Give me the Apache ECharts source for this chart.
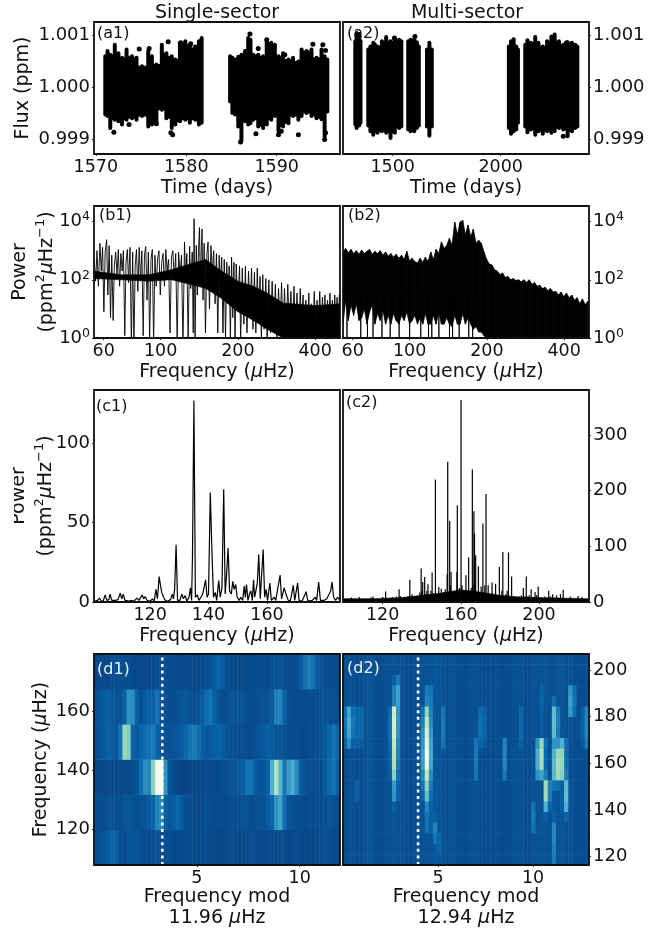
<!DOCTYPE html>
<html><head><meta charset="utf-8"><style>html,body{margin:0;background:#fff}#c{width:670px;height:931px}</style>
<script src="https://cdn.jsdelivr.net/npm/echarts@6/dist/echarts.min.js"></script></head><body><div id="c"></div>
<script>
// --- tick values
const a1XTicks=[1570,1580,1590], a2XTicks=[1500,2000], fluxTicks=[0.999,1,1.001];
const bXTicks=[60,100,200,400], bYTicks=[1,100,10000];
const bYLabels={1:'{n|10}{s|0}',100:'{n|10}{s|2}',10000:'{n|10}{s|4}'};
const c1XTicks=[120,140,160], c2XTicks=[120,160,200], c1YTicks=[0,50,100], c2YTicks=[0,100,200,300];
const dXTicks=[5,10], d1YTicks=[120,140,160], d2YTicks=[120,140,160,180,200];
// --- (a1) flux envelope per observing block
const a1T1=[1571.05,1571.3,1571.6,1572.1,1572.5,1572.9,1573.4,1574.0,1574.5,1575.1,1575.8,1576.2,1576.7,1577.3,1577.8,1578.4,1578.8,1579.3,1579.9,1580.4,1581.0,1581.4,1581.7];
const a1Hi1=[1.00059,1.00069,1.00062,1.00081,1.00065,1.00056,1.00072,1.00059,1.00056,1.0004,1.00069,1.00059,1.00043,1.00081,1.00065,1.00059,1.00053,1.00085,1.00088,1.00081,1.00075,1.00088,1.00094];
const a1Lo1=[.99947,.99944,.99921,.99937,.99934,.99928,.99937,.9994,.99937,.99944,.99924,.99928,.99934,.99956,.9994,.99921,.99928,.99934,.99937,.99931,.99937,.99928,.99931];
const a1T2=[1584.85,1585.1,1585.4,1585.75,1586.1,1586.5,1586.85,1587.1,1587.4,1587.96,1588.5,1588.9,1589.4,1589.8,1590.2,1590.7,1591.3,1591.8,1592.4,1592.75,1593.3,1593.85,1594.4,1594.96,1595.3,1595.6];
const a1Hi2=[1.00059,1.00056,1.00053,1.00058,1.00062,1.00069,1.00094,1.00091,1.00062,1.00062,1.00059,1.00091,1.00085,1.00081,1.00059,1.00065,1.00053,1.00056,1.00049,1.00072,1.00069,1.00072,1.00056,1.00072,1.00059,1.00053];
const a1Lo2=[.99972,.9995,.99947,.99924,.99896,.99934,.99928,.9993,.99937,.99924,.99921,.99928,.99937,.99944,.99915,.99924,.9993,.99944,.99937,.99944,.9995,.99944,.9994,.99938,.99905,.99953];
const a1Out=[[1572,.99913],[1573.67,.99928],[1574.8,1.00073],[1575.9,1.00074],[1578,1.00087],[1578.3,.99912],[1578.5,.99908],[1579.4,1.00085],[1580.5,1.00083],[1581,1.00077],[1576.7,.99929],[1576.2,.99931],[1587.04,1.00102],[1587.96,1.00074],[1588.9,1.00091],[1590.9,1.00062],[1592.4,.99908],[1590.5,.99915],[1590.2,.99908],[1587.7,.9991],[1594,1.00082],[1595.1,1.00081],[1595.4,1.0007],[1595.3,.99899],[1595.4,.99912],[1586,.99894]];
// --- (a2) flux envelope per sector block
const a2Blocks=[
 {t:[1327,1333,1345,1351],hi:[1.00088,1.00104,1.00101,1.00088],lo:[.99928,.99921,.99926,.99931]},
 {t:[1387,1397,1410,1430,1450,1470,1490,1510,1530,1540],hi:[1.00072,1.00078,1.00085,1.00078,1.00088,1.00096,1.00088,1.00094,1.00091,1.00088],lo:[.99926,.99915,.99908,.99912,.99915,.99912,.99902,.99912,.99921,.99924]},
 {t:[1572,1583,1600,1612,1621],hi:[1.00088,1.00091,1.00092,1.00086,1.00078],lo:[.99918,.99915,.99915,.99921,.99926]},
 {t:[1659,1670,1681],hi:[1.00072,1.00085,1.00072],lo:[.99924,.99906,.99924]},
 {t:[2038,2048,2060,2072,2080],hi:[1.00078,1.00088,1.00092,1.00078,1.00072],lo:[.99921,.9991,.99915,.99918,.99931]},
 {t:[2114,2124,2140,2160,2175,2195,2215,2235,2250,2270,2290,2310,2330,2345,2355],hi:[1.00081,1.0009,1.00085,1.00096,1.00085,1.00078,1.00088,1.00097,1.00101,1.00088,1.00081,1.00086,1.00085,1.00081,1.00078],lo:[.99924,.99913,.99918,.99908,.99915,.9991,.99915,.99912,.99915,.99921,.99918,.99905,.99915,.99921,.99924]}];
const a2Out=[[1603,1.00097],[1508,1.00094],[1415,1.00081],[2305,1.00085],[2290,.99905]];
// --- (b1) spectrum, plus the dense body of the trace
const b1Spectrum=[[55,600],[55.8,90],[56.5,1000],[57.2,60],[58,1800],[58.7,200],[59.4,1300],[60.1,8],[60.8,900],[61.6,2400],[62.3,30],[63,1500],[63.8,5],[64.5,700],[65.3,4],[66,300],[66.8,900],[67.6,150],[68.4,1100],[69.2,60],[70,800],[70.8,200],[71.6,1000],[72.5,1.2],[73.3,400],[74.2,1100],[75,80],[76,1300],[76.9,.5],[77.8,900],[78.7,.5],[79.6,300],[80.5,1100],[81.5,40],[82.5,1300],[83.5,100],[84.5,1000],[85.5,1.2],[86.5,700],[87.5,1400],[88.5,20],[89.6,900],[90.6,.7],[91.7,500],[92.8,1100],[93.9,.6],[95,700],[96.1,60],[97.3,500],[98.5,1000],[99.7,30],[101,400],[102.2,800],[103.5,60],[104.8,1100],[106,200],[107.4,500],[108.8,1.5],[110.2,600],[111.6,1000],[113,100],[114.5,800],[116,.6],[117.5,900],[119,150],[120.6,700],[122.2,.5],[123.9,2000],[125.2,100],[126.5,800],[128,.7],[129.7,1400],[131,50],[132.8,900],[134,1.5],[135,12500],[136.2,.7],[137.7,1500],[139,30],[140.5,1100],[141.7,6200],[142.8,60],[144,1000],[145,5600],[146.3,20],[147.8,1800],[149.5,1.5],[151.5,800],[153,2000],[155,10],[157,1500],[159,200],[161,1000],[163,15],[165,800],[167,1.5],[169,700],[171,60],[173,600],[175,1.5],[177,500],[179,1],[181,400],[183,20],[185,300],[187,.8],[189,600],[191,5],[193,400],[195,.7],[197,350],[200,10],[203,300],[205,.8],[208,250],[211,3],[214,300],[217,1.5],[220,200],[223,6],[226,250],[229,2],[232,180],[235,1.5],[238,250],[241,4],[244,130],[247,.8],[250,150],[253,2],[257,110],[260,.7],[264,100],[268,1.5],[272,90],[276,2],[280,70],[284,.7],[288,50],[292,2],[296,80],[300,1.2],[304,50],[308,.8],[313,70],[317,3],[322,40],[326,1],[331,60],[335,1.5],[340,35],[345,.8],[350,50],[354,2],[359,30],[363,1],[368,20],[373,2],[378,35],[382,1.1],[387,15],[392,2],[397,40],[402,1],[407,20],[412,2],[417,40],[422,1.2],[427,25],[432,2],[437,30],[442,1],[447,20],[452,3],[457,35],[462,1.5],[467,20],[472,1],[477,30],[482,2],[487,25],[492,1.2],[497,30],[500,4]];
const b1BodyFreq=[55,70,90,110,130,150,170,200,230,260,300,400,500];
const b1BodyHi=[200,150,150,220,350,500,220,90,60,35,16,13,15];
const b1BodyLo=[110,100,90,100,70,50,25,8,4,2,1,1,1];
// --- (b2) spectrum envelope and the deep narrow dips
const b2Freq=[55,56.3,57.7,59.1,60.5,62,63.5,65,66.6,68.2,69.8,71.5,73.2,75,76.8,78.7,80.6,82.5,84.5,86.5,88.6,90.8,93,95.2,97.5,99.9,102.3,104.8,107.3,109.9,112.5,115.2,118,120.9,123.8,126.8,129.9,133,136.2,139.5,142.9,146.3,149.9,153.5,157.2,161,164.9,168.9,173,177.1,181.4,185.8,190.3,194.9,199.6,204.4,209.4,214.4,219.6,224.9,230.3,235.9,241.6,247.4,253.4,259.5,265.8,272.2,278.8,285.5,292.4,299.5,306.7,314.1,321.7,329.5,337.4,345.6,353.9,362.5,371.2,380.2,389.4,398.8,408.4,418.3,428.4,438.7,449.3,460.2,471.3,482.7,494.3,500];
const b2Hi=[900,1200,850,1100,800,1000,750,1050,800,950,1100,750,950,800,1000,700,900,650,800,600,750,550,700,500,950,450,550,420,380,550,400,600,420,900,500,1100,800,2000,1200,1500,2700,1500,9500,3500,9500,11000,3500,7500,3000,5500,1800,2300,1800,900,500,350,320,220,200,150,170,120,130,100,110,95,100,85,100,80,100,70,80,60,65,50,55,42,50,38,40,30,38,26,35,24,30,20,24,15,22,14,18,14];
const b2Lo=[3,20,4,14,6,15,4,5,10,3,8,14,3,7,4,9,3,6,3,7,4,3,6,4,8,3,4,6,3,5,3,7,3,3,6,3,8,3,3,5,3,2.5,6,3,3,7,3,5,3,2,2.5,1.6,1.6,1.2,1,1,1,1,1,1,1,1,1,1,1,1,1,1,1,1,1,1,1,1,1,1,1,1,1,1,1,1,1,1,1,1,1,1,1,1,1,1,1,1];
const b2Dips=[57,64.5,68.5,72,78,84,91,100,110.5,118.5,122,130,143,147,156,170,176];
// --- (c1), (c2) spectra
const c1Spectrum=[[101,.5],[102,1],[102.7,2.5],[103.3,.5],[104,.8],[104.6,4.5],[105.2,1],[105.9,1.5],[106.3,5],[106.9,1],[107.5,.5],[108.2,1],[109,1.5],[109.8,5.5],[110.3,2],[110.8,5],[111.4,1],[112,2],[112.7,.5],[113.5,1],[114.5,.5],[115.5,2.5],[116.2,1],[116.8,1.5],[117.3,4.5],[117.8,2],[118.3,3.5],[119,1],[120,.5],[120.8,2],[121.4,.5],[122,8],[122.5,2],[123.1,16],[123.6,10],[124,6],[124.6,3],[125.2,1],[126,.5],[127,1.5],[127.6,5],[128,2],[128.4,8],[128.9,36],[129.4,1],[130.2,1],[130.8,5],[131.4,2],[132,4],[132.6,.5],[133.3,3],[133.8,9],[134.2,1],[134.5,28],[135,127],[135.5,3],[136.2,4.5],[136.7,1],[137.4,3],[138,5],[138.5,6],[139,14],[139.5,3],[140,5],[140.6,69],[141.2,30],[141.7,3],[142.3,6],[142.8,1],[143.5,13.5],[144,3],[144.6,9],[145.2,71],[145.7,5],[146.2,18],[146.7,34],[147.2,7],[147.8,5],[148.3,13],[148.8,8],[149.3,11],[149.8,3],[150.5,1],[151,3],[151.7,1],[152.2,10],[152.6,3],[153,11],[153.5,1],[154,5],[154.5,7],[155,1],[155.4,14],[155.8,3],[156.3,8],[156.7,12],[157.2,30],[157.7,2],[158.1,15],[158.7,33],[159.2,3],[159.7,8],[160.2,1],[161,12],[161.5,1],[162.5,3],[163,1],[164.5,17],[165,2],[165.9,9],[166.5,5],[167.3,1],[168,.5],[169,10.5],[169.5,1],[170.5,12],[171,1],[172,.5],[173.4,6.5],[174,.5],[175.5,1],[176.5,3],[177,1],[177.7,12.5],[178.3,1],[179.5,1],[180.5,2],[181.3,5],[181.8,7],[182.3,12.5],[182.8,3],[183.5,1],[184.2,3],[185,1]];
const c2Spectrum=[[104,8],[108,9],[114,8],[115,10],[120,9],[121.5,19],[125,9],[127,10],[128.4,23],[129,11],[131,9],[133,11],[133.9,40],[135,14],[137,11],[139,17],[139.7,60],[140,20],[140.5,36],[141,12],[141.5,45],[142,14],[142.6,20],[143.2,32],[144,12],[144.7,20],[145.3,53],[146,16],[147,220],[147.5,12],[148,14],[148.7,27],[149.3,12],[150,24],[150.7,10],[151.3,18],[152,23],[152.6,12],[153,50],[153.3,252],[153.8,15],[154.3,146],[154.7,30],[155,54],[155.6,10],[156.3,14],[157,12],[157.7,20],[158,54],[158.2,174],[158.7,22],[159.3,25],[160.1,363],[160.6,30],[161.3,15],[162,12],[162.6,48],[163.2,14],[164,80],[164.5,14],[165.3,25],[165.9,238],[166.3,30],[166.7,163],[167,123],[167.3,30],[167.6,84],[168.2,14],[169,64],[169.6,15],[170.4,28],[171.3,141],[171.8,12],[172.3,30],[172.9,194],[173.4,14],[174,30],[175,10],[176,35],[176.7,8],[177.8,33],[178.5,10],[179.7,63],[180.4,8],[181,20],[181.5,90],[182,10],[183,14],[183.7,20],[184.4,89],[185,10],[186,46],[186.8,8],[190,10],[191,12],[192,25],[192.7,10],[193.5,46],[194.3,10],[195,12],[196,23],[196.8,9],[198,18],[198.8,12],[199.6,28],[200.5,8],[203,10],[205,20],[206,10],[207,14],[209,12],[211,14],[212.4,22],[216,10],[220,11],[222,9]];
const c2BodyFreq=[99.7,115,130,140,150,160,170,180,190,200,225.6];
const c2BodyHi=[6,6,8,12,16,22,18,12,9,8,6];
const c2BodyLo=[0,0,0,0,0,0,0,0,0,0,0];
// --- (d1) echelle, rows bottom to top, 60 columns
const d1Rows=[
[8,9,10,12,15,13,9,8,10,11,10,9,8,8,8,9,8,8,8,7,7,7,8,8,7,7,8,8,7,7,6,6,7,8,7,6,7,8,9,8,7,7,7,8,7,7,7,6,7,8,7,7,6,6,7,8,9,9,8,7],
[8,8,8,9,9,8,8,10,11,10,8,9,10,12,15,25,28,14,11,13,16,12,8,8,7,7,8,9,8,7,8,8,7,8,8,8,9,9,8,9,9,10,12,15,30,35,18,10,9,8,8,7,8,8,8,8,9,11,9,8],
[6,6,6,7,7,6,6,7,7,8,10,18,28,26,55,98,98,30,10,8,6,5,5,6,6,6,7,8,7,7,7,8,8,9,10,11,13,20,19,12,10,10,14,40,68,42,20,32,38,28,12,9,8,8,7,8,12,17,20,14],
[9,10,12,14,12,10,20,60,55,15,12,15,18,20,22,14,10,9,9,10,11,12,16,20,22,18,13,11,12,14,15,13,10,9,8,8,8,8,8,9,11,12,14,12,10,10,9,8,8,8,7,7,8,8,8,9,11,16,20,16],
[9,10,12,14,11,9,9,14,30,28,14,9,12,14,14,20,10,9,8,8,9,10,11,9,8,9,12,18,20,14,9,8,8,9,10,10,9,8,8,8,9,9,10,12,24,25,14,9,8,8,8,8,8,8,8,9,9,9,9,8],
[7,7,7,7,8,8,8,8,8,7,7,7,7,7,8,8,8,8,8,8,7,7,7,7,7,7,8,9,10,13,15,12,9,8,7,7,7,7,7,8,8,8,8,9,9,9,8,8,8,9,12,20,24,20,12,9,8,8,8,7]];
// --- (d2) echelle: background per column plus bright vertical strips [column, first row from top, values...]
const d2Background=[8,9,9,8,8,9,10,9,8,8,9,9,10,9,9,8,8,9,9,9,10,10,11,10,9,8,9,9,8,8,8,9,9,8,8,8,8,9,8,8,8,9,9,9,8,8,9,9,10,10,9,9,10,10,9,9,8,8,8,9];
const d2Strips=[
[1,5,35,38,36,28],[0,5,18,20,18,14],[2,5,18,22,20,14],[3,5,16,16,16,14],[4,5,15,15,15,12],[3,12,14,14],
[12,2,14,24,25,76,80,78,72,68,66,55,32,30,14],[11,5,16,18,18,16,15,14,12],[13,2,22,34,34,30,30,30,26,24,22,18,14,14],
[20,3,22,25,58,72,82,90,100,94,72,56,46,26,20,20],[19,5,20,24,28,30,34,32,26,20,16],[21,3,20,22,24,28,32,36,38,36,28,22,18,14,14,14],[22,15,14,25,20],[23,17,16,14],
[24,5,20,22,22,20],
[33,5,16,18,18,15],[34,5,14,15,15,12],[32,8,20,22,22,20],[39,8,25,26,26,22],[43,5,16,16,16,14],
[47,8,30,38,38,30],[48,3,15,16,14,12,12,60,66,64,36],[49,8,18,16,16,24,62,62,40,14],[50,12,24,24,16],
[51,4,18,45,46,44,30,40,44,42,20,12,12,14,26,26,24,22],[52,5,22,24,22,30,60,64,62,18],[53,8,40,58,58,54,14,14,14],[54,8,18,18,18,22,44,46,40,14],[55,3,30,34,32],[56,3,18,20,18],
[46,14,20,22,20],[59,5,25,26,26,22],[58,5,14,14,14,12]];
const d2Cols=d2Background.length, d2RowCount=20;
const d1Marker=[[3.32,107.8],[3.32,178.6]], d2Marker=[[3.95,116.4],[3.95,206]];
// --- layout
const FONT='DejaVu Sans', INK='#111';
const COLX=[94,343], W=246, ROWS=[[22,132],[206,132],[390,212],[654,211]];
const GRAD=['#084081','#0868ac','#2b8cbe','#4eb3d3','#7bccc4','#a8ddb5','#ccebc5','#e0f3db','#f7fcf0'];
const grid=[]; ROWS.forEach(r=>COLX.forEach(x=>grid.push({left:x,top:r[0],width:W,height:r[1],show:false})));
const tx=(o)=>Object.assign({fontFamily:FONT,color:INK},o);
const rich={i:tx({fontStyle:'italic',fontSize:19}),n:tx({fontSize:19,lineHeight:27}),s:tx({fontSize:13,lineHeight:18,verticalAlign:'top'})};
const nameStyle={fontFamily:FONT,fontSize:19,color:INK,lineHeight:21,rich};
const tickRich={n:tx({fontSize:18,lineHeight:22}),s:tx({fontSize:12.5,lineHeight:14,verticalAlign:'top'})};
const POWER='{n|Power}\n{n|(ppm}{s|2}{i|μ}{n|Hz}{s|−1}{n|)}';
const fmtFlux=v=>(+v).toFixed(3), fmtLog=v=>bYLabels[Math.round(v)]||'', fmtInt=v=>String(Math.round(v));
function xA(i,type,min,max,ticks,name,gap,fs){return {gridIndex:i,type,min,max,logBase:10,splitLine:{show:false},minorTick:{show:false},axisLine:{show:false,onZero:false},
 axisTick:{show:true,length:2,customValues:ticks,lineStyle:{color:'#333'}},axisLabel:{margin:4,customValues:ticks,formatter:fmtInt,showMinLabel:true,showMaxLabel:true,hideOverlap:false,fontFamily:FONT,fontSize:fs||17.5,color:INK},
 name,nameLocation:'middle',nameGap:gap,nameMoveOverlap:false,nameTextStyle:nameStyle};}
function yA(i,type,min,max,ticks,fmt,right,name,gap){return {gridIndex:i,type,min,max,logBase:10,position:right?'right':'left',splitLine:{show:false},minorTick:{show:false},axisLine:{show:false,onZero:false},
 axisTick:{show:true,length:2,customValues:ticks,lineStyle:{color:'#333'}},axisLabel:{margin:4,customValues:ticks,formatter:fmt,rich:tickRich,showMinLabel:true,showMaxLabel:true,hideOverlap:false,fontFamily:FONT,fontSize:18,color:INK},
 name:name||'',nameLocation:'middle',nameGap:gap||0,nameMoveOverlap:false,nameRotate:90,nameTextStyle:nameStyle};}
const xAxis=[
 xA(0,'value',1569.8,1597,a1XTicks,'Time (days)',24),xA(1,'value',1270,2409,a2XTicks,'Time (days)',24),
 xA(2,'log',55,500,bXTicks,'Frequency ({i|μ}Hz)',24),xA(3,'log',55,500,bXTicks,'Frequency ({i|μ}Hz)',24),
 xA(4,'value',100.8,185,c1XTicks,'Frequency ({i|μ}Hz)',24),xA(5,'value',99.7,225.6,c2XTicks,'Frequency ({i|μ}Hz)',24),
 xA(6,'value',0,11.96,dXTicks,'Frequency mod\n11.96 {i|μ}Hz',22),xA(7,'value',0,12.94,dXTicks,'Frequency mod\n12.94 {i|μ}Hz',22),
 {gridIndex:6,type:'category',show:false,data:d1Rows[0].map((_,j)=>j)},{gridIndex:7,type:'category',show:false,data:d2Background.map((_,j)=>j)}];
const yAxis=[
 yA(0,'value',.99871,1.00125,fluxTicks,fmtFlux,false,'Flux (ppm)',60),yA(1,'value',.99871,1.00125,fluxTicks,fmtFlux,true),
 yA(2,'log',1,34356,bYTicks,fmtLog,false,POWER,33),yA(3,'log',1,34356,bYTicks,fmtLog,true),
 yA(4,'value',0,133.6,c1YTicks,fmtInt,false,POWER,34),yA(5,'value',0,381,c2YTicks,fmtInt,true),
 yA(6,'value',107.8,179.3,d1YTicks,fmtInt,false,'Frequency ({i|μ}Hz)',42),yA(7,'value',116.4,206.9,d2YTicks,fmtInt,true),
 {gridIndex:6,type:'category',show:false,data:d1Rows.map((_,j)=>j)},{gridIndex:7,type:'category',show:false,data:Array.from({length:d2RowCount},(_,j)=>j)}];
// filled envelope between hi and lo; with stems=true the fill stops at the lower neighbour and each sample keeps a round stem
function band(ax,t,hi,lo,sw,stems){return {type:'custom',coordinateSystem:'cartesian2d',xAxisIndex:ax,yAxisIndex:ax,silent:true,clip:true,
 data:t.map((v,i)=>[v,hi[i],lo[i]]),encode:{x:0,y:[1,2]},
 renderItem(p,api){const i=p.dataIndex,kids=[];
  if(stems){const a=api.coord([t[i],hi[i]]),b=api.coord([t[i],lo[i]]);
   kids.push({type:'line',shape:{x1:a[0],y1:a[1],x2:b[0],y2:b[1]},style:{stroke:'#000',lineWidth:4,lineCap:'round'}});}
  if(i<t.length-1){const j=i+1,u=stems?Math.min(hi[i],hi[j]):null,d=stems?Math.max(lo[i],lo[j]):null;
   const pts=stems?[[t[i],u],[t[j],u],[t[j],d],[t[i],d]]:[[t[i],hi[i]],[t[j],hi[j]],[t[j],lo[j]],[t[i],lo[i]]];
   kids.push({type:'polygon',shape:{points:pts.map(q=>api.coord(q))},style:{fill:'#000',stroke:'#000',lineWidth:sw,lineJoin:'round'}});}
  return {type:'group',children:kids};}};}
const scatter=(ax,d)=>({type:'scatter',xAxisIndex:ax,yAxisIndex:ax,data:d,symbolSize:5,itemStyle:{color:'#000',opacity:1},silent:true});
const line=(ax,d,w)=>({type:'line',xAxisIndex:ax,yAxisIndex:ax,data:d,symbol:'none',silent:true,clip:true,lineStyle:{color:'#000',width:w}});
const d1Data=[];d1Rows.forEach((r,y)=>r.forEach((v,x)=>d1Data.push([x,y,v])));
const d2Grid=Array.from({length:d2RowCount},()=>d2Background.slice());
d2Strips.forEach(s=>{for(let k=2;k<s.length;k++){const r=s[1]+k-2;d2Grid[r][s[0]]=Math.max(d2Grid[r][s[0]],s[k]);}});
const d2Data=[];d2Grid.forEach((r,top)=>r.forEach((v,x)=>d2Data.push([x,d2RowCount-1-top,v])));
const b2DipPath=[];b2Dips.forEach(f=>{b2DipPath.push([f,30],[f,.9],[f,30]);});
const series=[
 band(0,a1T1,a1Hi1,a1Lo1,1,true),band(0,a1T2,a1Hi2,a1Lo2,1,true),scatter(0,a1Out),
 ...a2Blocks.map(b=>band(1,b.t,b.hi,b.lo,1,true)),scatter(1,a2Out),
 band(2,b1BodyFreq,b1BodyHi,b1BodyLo,.5),line(2,b1Spectrum,.9),
 band(3,b2Freq,b2Hi,b2Lo,.8),line(3,b2DipPath,.9),
 line(4,c1Spectrum,1.2),
 band(5,c2BodyFreq,c2BodyHi,c2BodyLo,.5),{type:'bar',xAxisIndex:5,yAxisIndex:5,data:c2Spectrum,barWidth:1.2,silent:true,itemStyle:{color:'#000'}},
 {type:'heatmap',xAxisIndex:8,yAxisIndex:8,data:d1Data,silent:true,progressive:0,emphasis:{disabled:true}},
 {type:'heatmap',xAxisIndex:9,yAxisIndex:9,data:d2Data,silent:true,progressive:0,emphasis:{disabled:true}},
 {type:'line',xAxisIndex:6,yAxisIndex:6,data:d1Marker,symbol:'none',silent:true,z:5,lineStyle:{color:'#fff',width:2.6,type:[3,3.6]}},
 {type:'line',xAxisIndex:7,yAxisIndex:7,data:d2Marker,symbol:'none',silent:true,z:5,lineStyle:{color:'#fff',width:2.6,type:[3,3.6]}}];
const hmCount=series.length-4;
const panelLabels=[['(a1)',97,34,INK],['(a2)',347,34,INK],['(b1)',99,216,INK],['(b2)',348,216,INK],['(c1)',96,407,INK],['(c2)',346,403,INK],['(d1)',97,670,'#e8f4f0'],['(d2)',347,669,'#e8f4f0']];
const graphic=[
 ...grid.map(g=>({type:'rect',z:100,silent:true,shape:{x:g.left,y:g.top,width:g.width,height:g.height},style:{fill:'none',stroke:'#111',lineWidth:1.8}})),
 ...panelLabels.map(l=>({type:'text',z:101,silent:true,x:l[1],y:l[2],style:{text:l[0],fontFamily:FONT,fontSize:16,fill:l[3],textVerticalAlign:'middle'}})),
 {type:'rect',z:102,silent:true,shape:{x:0,y:470,width:14,height:60},style:{fill:'#fff'}}];
const chart=echarts.init(document.getElementById('c'),null,{renderer:'canvas'});
chart.setOption({animation:false,backgroundColor:'#fff',grid,xAxis,yAxis,series,graphic,
 title:[{text:'Single-sector',left:212,top:-1,textAlign:'center',textStyle:{fontFamily:FONT,fontSize:19,fontWeight:'normal',color:INK}},
        {text:'Multi-sector',left:462,top:-1,textAlign:'center',textStyle:{fontFamily:FONT,fontSize:19,fontWeight:'normal',color:INK}}],
 visualMap:[{show:false,seriesIndex:hmCount,min:4,max:100,inRange:{color:GRAD}},{show:false,seriesIndex:hmCount+1,min:4,max:100,inRange:{color:GRAD}}]});
</script></body></html>
